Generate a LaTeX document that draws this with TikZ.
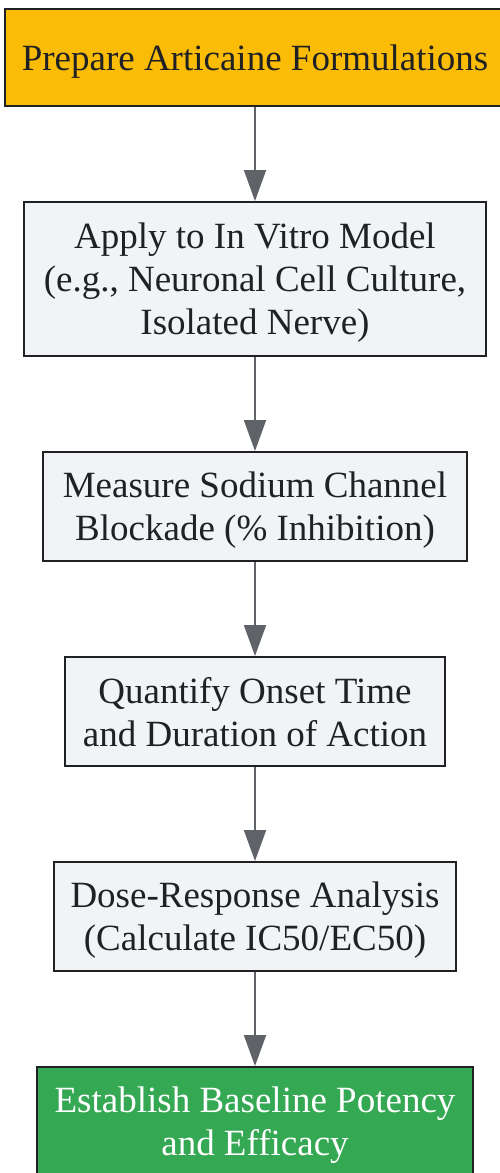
\documentclass[tikz,border=0pt]{standalone}
\usepackage{fontspec}
\setmainfont{Liberation Serif}
\usepackage{tikz}
\usetikzlibrary{positioning,arrows.meta}

\definecolor{stepfill}{HTML}{F1F3F4}
\definecolor{stepline}{HTML}{202124}
\definecolor{startfill}{HTML}{FBBC05}
\definecolor{endfill}{HTML}{34A853}
\definecolor{arrowgray}{HTML}{5F6368}

\begin{document}
\begin{tikzpicture}[
    x=1pt, y=-1pt,
    node distance=94pt,
    box/.style = {draw=stepline, line width=2pt, fill=stepfill, text=stepline, minimum height=109pt, align=center, inner sep=0pt, text depth=0pt, font=\fontsize{37}{43}\selectfont},
    > = {Triangle[length=31pt, width=22pt]}
]
\useasboundingbox (0,0) rectangle (500,1173);

\node (prep) [box, fill=startfill, minimum width=500pt, minimum height=97pt] at (255,57.5) {Prepare Articaine Formulations};
\node (apply) [box, minimum width=462pt, minimum height=154pt, below=of prep] {Apply to In Vitro Model\\(e.g., Neuronal Cell Culture,\\Isolated Nerve)};
\node (meas) [box, minimum width=424pt, below=of apply] {Measure Sodium Channel\\Blockade (\% Inhibition)};
\node (quant) [box, minimum width=380pt, below=of meas] {Quantify Onset Time\\and Duration of Action};
\node (dose) [box, minimum width=402pt, below=of quant] {Dose-Response Analysis\\(Calculate IC50/EC50)};
\node (base) [box, fill=endfill, text=white, minimum width=436pt, below=of dose] {Establish Baseline Potency\\and Efficacy};

\draw[->, arrowgray, line width=2pt] (prep) to (apply);
\draw[->, arrowgray, line width=2pt] (apply) to (meas);
\draw[->, arrowgray, line width=2pt] (meas) to (quant);
\draw[->, arrowgray, line width=2pt] (quant) to (dose);
\draw[->, arrowgray, line width=2pt] (dose) to (base);
\end{tikzpicture}
\end{document}
